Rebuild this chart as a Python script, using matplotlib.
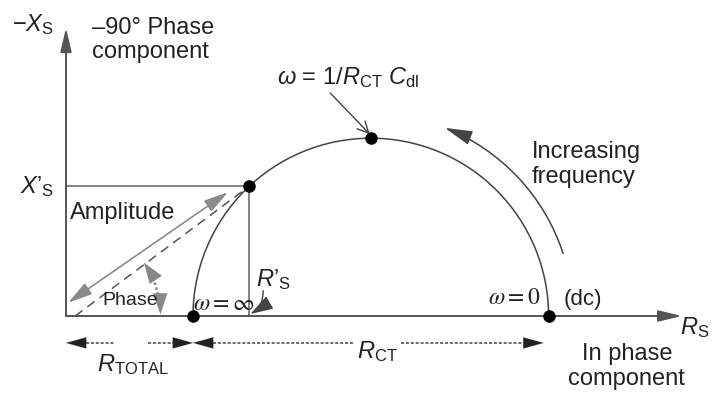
import matplotlib
matplotlib.use("Agg")
import matplotlib.pyplot as plt
from matplotlib.patches import Arc, FancyArrowPatch
from matplotlib.path import Path
from matplotlib.transforms import Affine2D

plt.rcParams['font.family'] = ['Liberation Sans', 'DejaVu Sans']
plt.rcParams['mathtext.fontset'] = 'custom'
plt.rcParams['mathtext.rm'] = 'Liberation Sans'
plt.rcParams['mathtext.it'] = 'Liberation Sans:italic'
plt.rcParams['mathtext.sf'] = 'Liberation Sans'

# Nyquist schematic values (arbitrary units)
R_TOTAL = 25.0      # high-frequency intercept
R_CT = 70.0         # charge-transfer resistance (diameter)
R_PRIME = 36.0      # in-phase part of the marked point
X_PRIME = 25.5      # -90 deg part of the marked point
X_AXIS_END = 121.3
Y_AXIS_END = 56.7

center = R_TOTAL + R_CT / 2
radius = R_CT / 2
dc_point = R_TOTAL + R_CT

# figure: 714x394 px, 5.08 px per unit, origin at pixel (66, 316)
S = 5.08
fig = plt.figure(figsize=(7.14, 3.94), dpi=100)
ax = fig.add_axes([0, 0, 1, 1])
ax.set_xlim(-66 / S, (714 - 66) / S)
ax.set_ylim(-(394 - 316) / S, 316 / S)
ax.axis('off')

axis_col = '#555555'
gray = '#8a8a8a'


def arrow(p0, p1, style, col, lw=1.2, ls='-', cs='arc3', z=3):
    a = FancyArrowPatch(p0, p1, arrowstyle=style, mutation_scale=20, color=col,
                        lw=lw, linestyle=ls, shrinkA=0, shrinkB=0,
                        connectionstyle=cs, zorder=z)
    ax.add_patch(a)


def arc_arrow(cx, cy, r, t1, t2, style, col, lw=1.2, ls='-'):
    p = Path.arc(t1, t2).transformed(Affine2D().scale(r).translate(cx, cy))
    a = FancyArrowPatch(path=p, arrowstyle=style, mutation_scale=20, color=col,
                        lw=lw, linestyle=ls, zorder=3)
    ax.add_patch(a)


# axes
arrow((0, 0), (X_AXIS_END, 0), '-|>,head_length=0.72,head_width=0.17', axis_col, lw=1.4)
arrow((0, 0), (0, Y_AXIS_END), '-|>,head_length=0.72,head_width=0.17', axis_col, lw=1.4)

# semicircle
ax.add_patch(Arc((center, 0), R_CT, R_CT, theta1=0, theta2=180,
                 color='#444444', lw=1.1, zorder=2))

# projection box of the marked point
ax.plot([0, R_PRIME], [X_PRIME, X_PRIME], color='#777777', lw=1.3, zorder=2)
ax.plot([R_PRIME, R_PRIME], [X_PRIME, 0], color='#777777', lw=1.3, zorder=2)

# dashed radius vector
ax.plot([1.8, R_PRIME], [0, X_PRIME], color='#555555', lw=1.1,
        linestyle=(0, (6, 4)), zorder=2)

# amplitude arrow
arrow((0.4, 2.6), (31.9, 24.4), '<|-|>,head_length=0.75,head_width=0.2', gray, lw=1.2)

# phase arc (dotted line plus two heads)
ax.add_patch(Arc((0, 0), 37.2, 37.2, theta1=4.0, theta2=30.0, color='#888888',
                 lw=1.8, linestyle=(0, (1.0, 1.0)), zorder=3))
arc_arrow(0, 0, 18.6, 27.0, 34.5, '-|>,head_length=0.75,head_width=0.26', '#888888', lw=0.1)
arc_arrow(0, 0, 18.6, 1.0, 8.0, '<|-,head_length=0.75,head_width=0.26', '#888888', lw=0.1)

# increasing frequency arc
arc_arrow(center, 0, 39.8, 18.0, 68.5, '-|>,head_length=0.85,head_width=0.22', '#444444',
          lw=1.1)

# characteristic points
ax.plot([R_TOTAL, dc_point, center, R_PRIME], [0, 0, radius, X_PRIME], 'o',
        color='black', ms=8, zorder=5)

# arrow to peak
arrow((52.0, 43.9), (center - 0.2, radius + 0.8), '->,head_length=0.4,head_width=0.2',
      '#444444', lw=1.0)

# R'_S arrow
arrow((38.8, 5.0), (36.3, 0.4), '-|>,head_length=0.7,head_width=0.22', '#444444',
      lw=1.0, cs='arc3,rad=-0.3')

# dimension arrows
dim_y = -5.3
dim_ls = (0, (2, 1.2))
ax.plot([4.0, 9.6], [dim_y, dim_y], color='#444444', lw=1.1, linestyle=dim_ls)
ax.plot([16.1, 21.0], [dim_y, dim_y], color='#444444', lw=1.1, linestyle=dim_ls)
ax.plot([29.0, 56.5], [dim_y, dim_y], color='#444444', lw=1.1, linestyle=dim_ls)
ax.plot([66.0, 90.0], [dim_y, dim_y], color='#444444', lw=1.1, linestyle=dim_ls)
hs = '-|>,head_length=0.72,head_width=0.2'
arrow((4.0, dim_y), (0, dim_y), hs, '#222222', lw=0.1)
arrow((21.0, dim_y), (R_TOTAL, dim_y), hs, '#222222', lw=0.1)
arrow((29.0, dim_y), (R_TOTAL, dim_y), hs, '#222222', lw=0.1)
arrow((90.0, dim_y), (dc_point - 1.0, dim_y), hs, '#222222', lw=0.1)

# labels
tc = '#222222'
fs = 17
ax.text(-6.5, 57.3, r'$-X_\mathrm{S}$', fontsize=fs, color=tc, ha='center', va='center')
ax.text(5.1, 58.9, '\u201390\u00b0 Phase\ncomponent', fontsize=fs, color=tc,
        ha='left', va='top', linespacing=1.15)
ax.text(55.5, 47.0, r'$\omega$ = 1/$R_\mathrm{CT}$ $C_\mathrm{dl}$', fontsize=fs,
        color=tc, ha='center', va='center')
ax.text(-5.7, 25.4, '$X\u2019_\\mathrm{S}$', fontsize=fs, color=tc, ha='center',
        va='center')
ax.text(11.2, 20.3, 'Amplitude', fontsize=fs, color=tc, ha='center', va='center')
ax.text(12.6, 3.1, 'Phase', fontsize=14, color=tc, ha='center', va='center')
ax.text(31.0, 2.4, r'$\omega = \infty$', fontsize=17, color=tc, ha='center',
        va='center', math_fontfamily='stix')
ax.text(40.8, 7.2, '$R\u2019_\\mathrm{S}$', fontsize=fs, color=tc, ha='center',
        va='center')
ax.text(88.3, 3.5, r'$\omega = 0$', fontsize=17, color=tc, ha='center',
        va='center', math_fontfamily='stix')
ax.text(101.8, 3.3, '(dc)', fontsize=16, color=tc, ha='center', va='center')
ax.text(91.7, 29.8, 'Increasing\nfrequency', fontsize=fs, color=tc, ha='left',
        va='center', linespacing=1.15)
ax.text(123.8, -2.3, r'$R_\mathrm{S}$', fontsize=fs, color=tc, ha='center', va='center')
ax.text(110.4, -9.9, 'In phase\ncomponent', fontsize=fs, color=tc, ha='center',
        va='center', linespacing=1.15)
ax.text(13.2, -9.6, r'$R_\mathrm{TOTAL}$', fontsize=fs, color=tc, ha='center', va='center')
ax.text(61.2, -7.0, r'$R_\mathrm{CT}$', fontsize=fs, color=tc, ha='center', va='center')

fig.savefig('out.png', dpi=100, facecolor='white')
